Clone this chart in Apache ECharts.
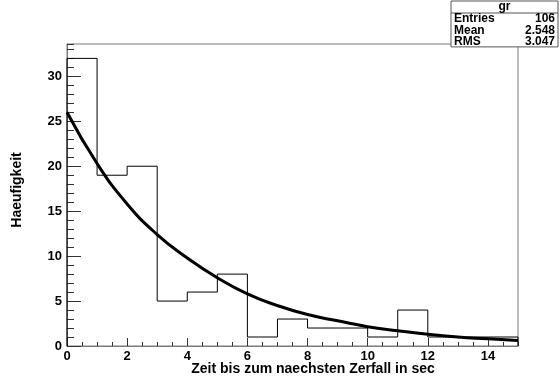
<!DOCTYPE html>
<html>
<head>
<meta charset="utf-8">
<script src="https://cdn.jsdelivr.net/npm/echarts@6/dist/echarts.min.js"></script>
<style>
  html, body { margin: 0; padding: 0; background: #fff; }
  #chart { width: 560px; height: 381px; }
</style>
</head>
<body>
<div id="chart"></div>
<script>
// Histogram: one-second bins of waiting time until the next decay
const binStarts = [0, 1, 2, 3, 4, 5, 6, 7, 8, 9, 10, 11, 12, 13, 14];
const binCounts = [32, 19, 20, 5, 6, 8, 1, 3, 2, 2, 1, 4, 1, 1, 1];
const binWidth = 1;

// Fitted exponential curve, sampled at whole seconds
const fitX = [0, 1, 2, 3, 4, 5, 6, 7, 8, 9, 10, 11, 12, 13, 14, 15];
const fitY = [26.0, 20.3, 15.8, 12.4, 9.8, 7.6, 5.8, 4.5, 3.5, 2.8, 2.15, 1.7, 1.3, 1.0, 0.8, 0.6];

// Statistics box
const statsTitle = 'gr';
const statsLabels = ['Entries', 'Mean', 'RMS'];
const statsValues = ['106', '2.548', '3.047'];

const xTitle = 'Zeit bis zum naechsten Zerfall in sec';
const yTitle = 'Haeufigkeit';

const xMin = 0, xMax = 15;
const yMin = 0, yMax = 33.6;

const FONT = '"Liberation Sans", Arial, Helvetica, sans-serif';

// outline of the histogram as a stepped path
const histData = [[binStarts[0], 0]];
binStarts.forEach((x, i) => histData.push([x, binCounts[i]]));
const lastEdge = binStarts[binStarts.length - 1] + binWidth;
histData.push([lastEdge, binCounts[binCounts.length - 1]]);
histData.push([lastEdge, 0]);

const fitData = fitX.map((x, i) => [x, fitY[i]]);

const chart = echarts.init(document.getElementById('chart'), null, { renderer: 'canvas' });

const tickColor = '#333';
const frameColor = '#7a7a7a';

// stats box geometry
const bx = 451, by = 1, bw = 107, headH = 12, rowH = 11.3;
const statsFont = 'bold 12px ' + FONT;
const statsChildren = [
  { type: 'rect', shape: { x: bx, y: by, width: bw, height: headH + rowH * 3 },
    style: { fill: '#fff', stroke: '#555', lineWidth: 1 } },
  { type: 'line', shape: { x1: bx, y1: by + headH, x2: bx + bw, y2: by + headH },
    style: { stroke: '#555', lineWidth: 1 } },
  { type: 'text', x: bx + bw / 2, y: by + headH / 2,
    style: { text: statsTitle, font: statsFont, fill: '#000', align: 'center', verticalAlign: 'middle' } }
];
statsLabels.forEach((lab, i) => {
  const cy = by + headH + rowH * i + rowH / 2 + 0.5;
  statsChildren.push({ type: 'text', x: bx + 3, y: cy,
    style: { text: lab, font: statsFont, fill: '#000', align: 'left', verticalAlign: 'middle' } });
  statsChildren.push({ type: 'text', x: bx + bw - 3, y: cy,
    style: { text: statsValues[i], font: statsFont, fill: '#000', align: 'right', verticalAlign: 'middle' } });
});

chart.setOption({
  animation: false,
  backgroundColor: '#fff',
  grid: { left: 67, right: 42, top: 44, bottom: 35, show: true, borderColor: frameColor, borderWidth: 1, backgroundColor: 'transparent' },
  xAxis: [
    {
      type: 'value', min: xMin, max: xMax, interval: 2,
      axisLine: { show: true, lineStyle: { color: frameColor, width: 1 } },
      axisTick: { show: true, inside: true, length: 8, lineStyle: { color: tickColor } },
      axisLabel: { show: true, showMaxLabel: false, margin: 4, fontFamily: FONT, fontWeight: 'bold', fontSize: 13, color: '#000' },
      splitLine: { show: false }
    },
    {
      type: 'value', min: xMin, max: xMax, interval: 0.5, position: 'bottom',
      axisLine: { show: false },
      axisTick: { show: true, inside: true, length: 4, lineStyle: { color: tickColor } },
      axisLabel: { show: false },
      splitLine: { show: false }
    }
  ],
  yAxis: [
    {
      type: 'value', min: yMin, max: yMax, interval: 5,
      axisLine: { show: true, lineStyle: { color: frameColor, width: 1 } },
      axisTick: { show: true, inside: true, length: 14, lineStyle: { color: tickColor } },
      axisLabel: { show: true, showMaxLabel: false, margin: 5, fontFamily: FONT, fontWeight: 'bold', fontSize: 13, color: '#000' },
      splitLine: { show: false }
    },
    {
      type: 'value', min: yMin, max: yMax, interval: 1, position: 'left',
      axisLine: { show: false },
      axisTick: { show: true, inside: true, length: 7, lineStyle: { color: tickColor } },
      axisLabel: { show: false },
      splitLine: { show: false }
    }
  ],
  series: [
    {
      name: 'gr', type: 'line', step: 'end', data: histData,
      xAxisIndex: 0, yAxisIndex: 0,
      symbol: 'none', lineStyle: { color: '#000', width: 1 }, z: 2
    },
    {
      name: 'fit', type: 'line', smooth: true, data: fitData,
      xAxisIndex: 0, yAxisIndex: 0,
      symbol: 'none', lineStyle: { color: '#000', width: 3 }, z: 3
    }
  ],
  graphic: [
    { type: 'text', x: 313, y: 369,
      style: { text: xTitle, font: 'bold 14px ' + FONT, fill: '#000', align: 'center', verticalAlign: 'middle' } },
    { type: 'text', x: 17, y: 190, rotation: Math.PI / 2,
      style: { text: yTitle, font: 'bold 14px ' + FONT, fill: '#000', align: 'center', verticalAlign: 'middle' } },
    { type: 'group', children: statsChildren, z: 100 }
  ]
});
</script>
</body>
</html>
